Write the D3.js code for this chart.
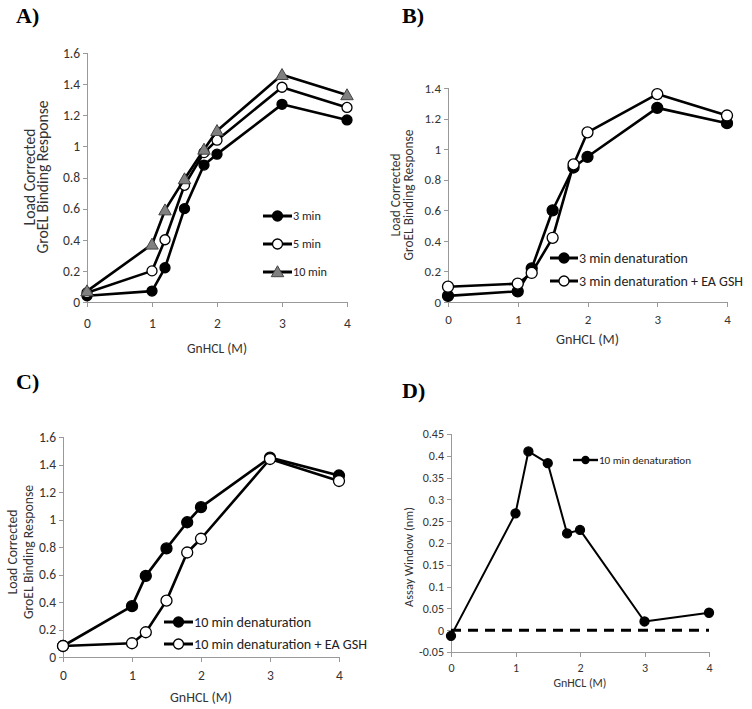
<!DOCTYPE html>
<html>
<head>
<meta charset="utf-8">
<title>GroEL binding panels</title>
<script src="https://cdnjs.cloudflare.com/ajax/libs/d3/7.8.5/d3.min.js"></script>
<style>
body { margin: 0; background: #fff; }
svg text { font-family: Carlito, Lato, sans-serif; fill: #333; }
.panel-label { font-family: "Liberation Serif", "Times New Roman", serif; font-weight: bold; font-size: 22px; fill: #000; }
.axis path, .axis line { stroke: #999; shape-rendering: crispEdges; }
.series { fill: none; stroke: #000; stroke-width: 2.6px; stroke-linejoin: round; }
</style>
</head>
<body>
<script>
// GnHCL concentrations (M), same for every panel
var gnhcl = [0, 1, 1.2, 1.5, 1.8, 2, 3, 4];
var xTicks = [0, 1, 2, 3, 4];

// panel A
var a3min  = [0.04, 0.07, 0.22, 0.60, 0.88, 0.95, 1.27, 1.17];
var a5min  = [0.06, 0.20, 0.40, 0.75, 0.96, 1.04, 1.38, 1.25];
var a10min = [0.07, 0.37, 0.59, 0.79, 0.98, 1.10, 1.46, 1.33];
var aTicks = [0, 0.2, 0.4, 0.6, 0.8, 1, 1.2, 1.4, 1.6];

// panel B
var b3min    = [0.04, 0.07, 0.22, 0.60, 0.88, 0.95, 1.27, 1.17];
var b3minGsh = [0.10, 0.12, 0.19, 0.42, 0.90, 1.11, 1.36, 1.22];
var bTicks = [0, 0.2, 0.4, 0.6, 0.8, 1, 1.2, 1.4];

// panel C
var c10min    = [0.08, 0.37, 0.59, 0.79, 0.98, 1.09, 1.45, 1.32];
var c10minGsh = [0.08, 0.10, 0.18, 0.41, 0.76, 0.86, 1.44, 1.28];
var cTicks = aTicks;

// panel D
var dWindow = [-0.013, 0.268, 0.41, 0.383, 0.222, 0.23, 0.02, 0.04];
var dBaseline = [0, 0];
var dTicks = [-0.05, 0, 0.05, 0.1, 0.15, 0.2, 0.25, 0.3, 0.35, 0.4, 0.45];

var svg = d3.select("body").append("svg")
    .attr("width", 752)
    .attr("height", 709);

function fmt(v) { return String(+v.toFixed(2)); }

// pick a font size so that the text gets the given width
function fitSize(txt, width) {
  var t = svg.append("text").style("font-size", "20px").text(txt);
  var w = t.node().getComputedTextLength();
  t.remove();
  return 20 * width / w;
}

// set size and pin the width too
function fitted(sel, txt, width) {
  return sel.style("font-size", fitSize(txt, width) + "px")
    .attr("textLength", width).attr("lengthAdjust", "spacingAndGlyphs").text(txt);
}

function marker(g, kind, r) {
  if (kind == "tri") {
    var s = r * 1.25;
    g.append("path")
      .attr("d", "M0," + (-s) + "L" + (s) + "," + (s * 0.75) + "L" + (-s) + "," + (s * 0.75) + "Z")
      .attr("fill", "#808080").attr("stroke", "#444").attr("stroke-width", 1);
  } else {
    g.append("circle").attr("r", r)
      .attr("fill", kind == "open" ? "#fff" : "#000")
      .attr("stroke", "#000").attr("stroke-width", 1.3);
  }
}

function drawPanel(p) {
  var x = d3.scaleLinear().domain([0, 4]).range(p.xr);
  var y = d3.scaleLinear().domain(p.yd).range(p.yr);
  var g = svg.append("g");

  g.append("text").attr("class", "panel-label")
    .attr("x", p.label[1]).attr("y", p.label[2]).text(p.label[0]);

  var xa = g.append("g").attr("class", "axis")
    .attr("transform", "translate(0," + p.yr[0] + ")")
    .call(d3.axisBottom(x).tickValues(xTicks).tickSize(5).tickSizeOuter(0).tickFormat(d3.format("d")));
  xa.selectAll("text").style("font-size", p.fs + "px").attr("y", p.xtickY).attr("dy", "0.35em");

  var ya = g.append("g").attr("class", "axis")
    .attr("transform", "translate(" + p.xr[0] + ",0)")
    .call(d3.axisLeft(y).tickValues(p.yt).tickSize(4).tickSizeOuter(0).tickFormat(fmt));
  ya.selectAll("text").style("font-size", p.fs + "px").attr("x", -7);
  ya.select(".domain").attr("d", "M0.5," + p.yr[0] + "V" + p.yr[1]);
  xa.select(".domain").attr("d", "M" + p.xr[0] + ",0.5H" + p.xr[1]);

  var xt = g.append("text").attr("text-anchor", "middle")
    .attr("x", (p.xr[0] + p.xr[1]) / 2).attr("y", p.xtitle[1]).attr("dy", "0.35em");
  fitted(xt, "GnHCL (M)", p.xtitle[0]);

  var ysize = fitSize(p.ytitle[0][0], p.ytitle[0][2]);
  p.ytitle.forEach(function(t) {
    g.append("text").attr("text-anchor", "middle")
      .attr("transform", "translate(" + t[1] + "," + p.ytitleC + ")rotate(-90)")
      .attr("dy", "0.35em")
      .style("font-size", ysize + "px").text(t[0]);
  });

  var line = d3.line().x(function(d) { return x(d[0]); }).y(function(d) { return y(d[1]); });

  if (p.baseline) {
    g.append("path").datum([[0, p.baseline[0]], [4, p.baseline[1]]])
      .attr("d", line).attr("fill", "none").attr("stroke", "#000")
      .attr("stroke-width", 3).attr("stroke-dasharray", "10,7");
  }

  p.series.forEach(function(s) {
    var pts = gnhcl.map(function(v, i) { return [v, s.values[i]]; });
    g.append("path").datum(pts).attr("class", "series").attr("d", line)
      .style("stroke-width", p.lw + "px");
    pts.forEach(function(d) {
      var m = g.append("g").attr("transform", "translate(" + x(d[0]) + "," + y(d[1]) + ")");
      marker(m, s.kind, p.r);
    });
  });

  // legend
  var last = p.series[p.series.length - 1].name;
  var lsize = fitSize(last, p.legend.tw);
  p.series.forEach(function(s, i) {
    var ly = p.legend.y + i * p.legend.dy;
    var lg = g.append("g");
    lg.append("line").attr("x1", p.legend.x).attr("x2", p.legend.x + p.legend.w)
      .attr("y1", ly).attr("y2", ly).attr("stroke", "#000").attr("stroke-width", p.lw + 0.4);
    var m = lg.append("g").attr("transform", "translate(" + (p.legend.x + p.legend.w / 2) + "," + ly + ")");
    marker(m, s.kind, p.legend.r);
    var lt = lg.append("text").attr("x", p.legend.x + p.legend.w + 1).attr("y", ly).attr("dy", "0.35em")
      .style("fill", "#222");
    if (s.name == last) fitted(lt, s.name, p.legend.tw);
    else lt.style("font-size", lsize + "px").text(s.name);
  });
}

drawPanel({
  label: ["A)", 16, 23],
  xr: [87, 347], yd: [0, 1.6], yr: [302, 53], yt: aTicks,
  fs: 13.5, xtickY: 21, xtitle: [60, 348], ytitleC: 177,
  ytitle: [["Load Corrected", 30, 97], ["GroEL Binding Response", 43]],
  lw: 2.6, r: 5,
  series: [
    { name: "3 min", values: a3min, kind: "filled" },
    { name: "5 min", values: a5min, kind: "open" },
    { name: "10 min", values: a10min, kind: "tri" }
  ],
  legend: { x: 263, w: 29, y: 216, dy: 28, r: 5, tw: 34 }
});

drawPanel({
  label: ["B)", 402, 23],
  xr: [448, 727], yd: [0, 1.4], yr: [302, 88], yt: bTicks,
  fs: 13, xtickY: 17, xtitle: [63, 339], ytitleC: 195,
  ytitle: [["Load Corrected", 395, 83], ["GroEL Binding Response", 408]],
  lw: 2.6, r: 5.5,
  series: [
    { name: "3 min denaturation", values: b3min, kind: "filled" },
    { name: "3 min denaturation + EA GSH", values: b3minGsh, kind: "open" }
  ],
  legend: { x: 550, w: 28, y: 258, dy: 23, r: 5, tw: 164 }
});

drawPanel({
  label: ["C)", 16, 389],
  xr: [63, 339], yd: [0, 1.6], yr: [657, 437], yt: cTicks,
  fs: 13.5, xtickY: 18, xtitle: [62, 697], ytitleC: 552,
  ytitle: [["Load Corrected", 12, 85], ["GroEL Binding Response", 28]],
  lw: 2.6, r: 5.5,
  series: [
    { name: "10 min denaturation", values: c10min, kind: "filled" },
    { name: "10 min denaturation + EA GSH", values: c10minGsh, kind: "open" }
  ],
  legend: { x: 164, w: 29, y: 622, dy: 22, r: 5, tw: 173 }
});

drawPanel({
  label: ["D)", 402, 398],
  xr: [451, 709], yd: [-0.05, 0.45], yr: [652, 434], yt: dTicks,
  fs: 12, xtickY: 16, xtitle: [53, 683], ytitleC: 557,
  ytitle: [["Assay Window (nm)", 409, 100]],
  lw: 2, r: 4.5, baseline: dBaseline,
  series: [
    { name: "10 min denaturation", values: dWindow, kind: "filled" }
  ],
  legend: { x: 573, w: 25, y: 460, dy: 20, r: 3.5, tw: 92 }
});
</script>
</body>
</html>
